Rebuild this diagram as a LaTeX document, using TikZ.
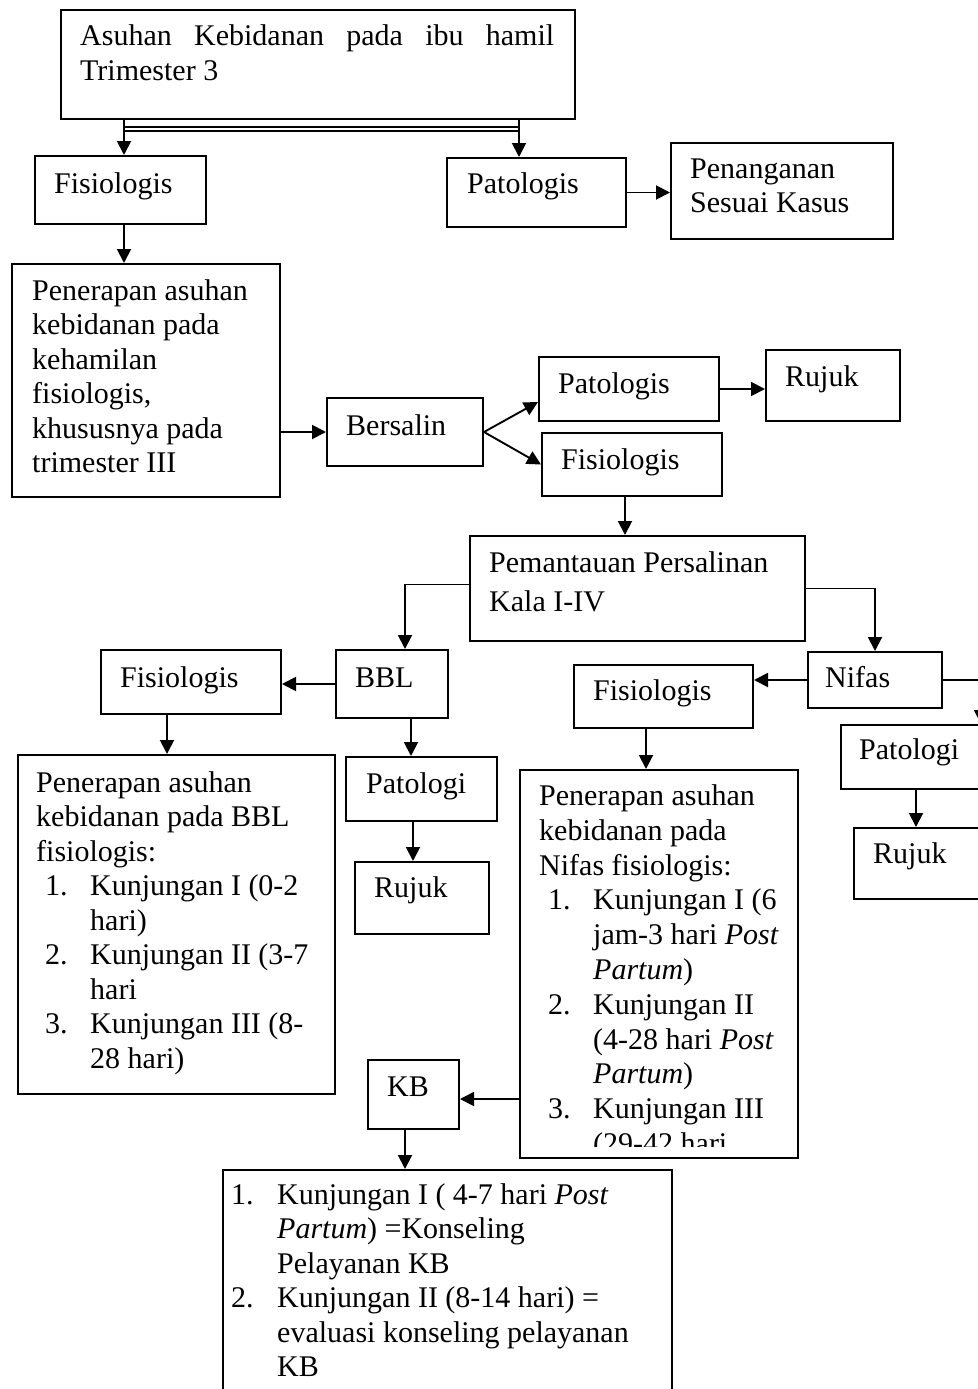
\documentclass[tikz,border=0pt]{standalone}
\usepackage{fontspec}
\setmainfont{Liberation Serif}
\usetikzlibrary{arrows.meta,calc}
\begin{document}
\begin{tikzpicture}[x=1pt,y=-1pt,
  box/.style={draw,line width=2pt,inner sep=0pt,anchor=north west},
  txt/.style={inner sep=0pt,anchor=north west,align=left,font=\fontsize{30}{34.5}\selectfont},
  arr/.style={line width=1.9pt,-{Triangle[length=14pt,width=14pt]}},
  ln/.style={line width=1.5pt}]
\useasboundingbox (0,0) rectangle (977,1389);

% boxes
\node[box,minimum width=514pt,minimum height=109pt] (top) at (60,9) {};
\node[box,minimum width=171pt,minimum height=68pt] (fis1) at (34,155) {};
\node[box,minimum width=179pt,minimum height=69pt] (pat1) at (446,157) {};
\node[box,minimum width=222pt,minimum height=96pt] (pen) at (670,142) {};
\node[box,minimum width=268pt,minimum height=233pt] (app1) at (11,263) {};
\node[box,minimum width=156pt,minimum height=68pt] (bers) at (326,397) {};
\node[box,minimum width=180pt,minimum height=64pt] (pat2) at (538,356) {};
\node[box,minimum width=134pt,minimum height=71pt] (ruj1) at (765,349) {};
\node[box,minimum width=180pt,minimum height=63pt] (fis2) at (541,432) {};
\node[box,minimum width=335pt,minimum height=105pt] (pem) at (469,535) {};
\node[box,minimum width=112pt,minimum height=68pt] (bbl) at (335,649) {};
\node[box,minimum width=180pt,minimum height=64pt] (fis3) at (100,649) {};
\node[box,minimum width=317pt,minimum height=339pt] (app2) at (17,754) {};
\node[box,minimum width=151pt,minimum height=64pt] (pato1) at (345,756) {};
\node[box,minimum width=134pt,minimum height=72pt] (ruj2) at (354,861) {};
\node[box,minimum width=134pt,minimum height=56pt] (nifas) at (807,651) {};
\node[box,minimum width=179pt,minimum height=63pt] (fis4) at (573,664) {};
\node[box,minimum width=278pt,minimum height=388pt] (app3) at (519,769) {};
\node[box,minimum width=280pt,minimum height=64pt] (pato2) at (840,724) {};
\node[box,minimum width=200pt,minimum height=71pt] (ruj3) at (853,827) {};
\node[box,minimum width=91pt,minimum height=69pt] (kb) at (367,1059) {};
\node[box,minimum width=449pt,minimum height=300pt] (bot) at (222,1169) {};

% texts (top of node = first baseline - 24.15)
\node[txt] (top-t) at (80,20.85) {\strut\hbox to 474pt{Asuhan\hfill Kebidanan\hfill pada\hfill ibu\hfill hamil}\\[1pt] Trimester 3};
\node[txt] (fis1-t) at (54,168.85) {\strut Fisiologis};
\node[txt] (pat1-t) at (467,168.85) {\strut Patologis};
\node[txt] (pen-t) at (690,153.85) {\strut Penanganan\\ Sesuai Kasus};
\node[txt] (app1-t) at (32,275.85) {\strut Penerapan asuhan\\ kebidanan pada\\ kehamilan\\ fisiologis,\\ khususnya pada\\ trimester III};
\node[txt] (bers-t) at (346,410.85) {\strut Bersalin};
\node[txt] (pat2-t) at (558,368.85) {\strut Patologis};
\node[txt] (ruj1-t) at (785,361.85) {\strut Rujuk};
\node[txt] (fis2-t) at (561,444.85) {\strut Fisiologis};
\node[txt] (pem-t) at (489,547.85) {\strut Pemantauan Persalinan\\[4.5pt] Kala I-IV};
\node[txt] (bbl-t) at (355,662.85) {\strut BBL};
\node[txt] (fis3-t) at (120,662.85) {\strut Fisiologis};
\node[txt] (app2-t) at (36,767.85) {\strut Penerapan asuhan\\ kebidanan pada BBL\\ fisiologis:\\
  \hspace*{9pt}\makebox[45pt][l]{1.}Kunjungan I (0-2\\ \hspace*{54pt}hari)\\
  \hspace*{9pt}\makebox[45pt][l]{2.}Kunjungan II (3-7\\ \hspace*{54pt}hari\\
  \hspace*{9pt}\makebox[45pt][l]{3.}Kunjungan III (8-\\ \hspace*{54pt}28 hari)};
\node[txt] (pato1-t) at (366,768.85) {\strut Patologi};
\node[txt] (ruj2-t) at (374,872.85) {\strut Rujuk};
\node[txt] (nifas-t) at (825,662.85) {\strut Nifas};
\node[txt] (fis4-t) at (593,675.85) {\strut Fisiologis};
\begin{scope}
\clip (519,769) rectangle (797,1146);
\node[txt,font=\fontsize{30}{34.8}\selectfont] (app3-t) at (539,780.85) {\strut Penerapan asuhan\\ kebidanan pada\\ Nifas fisiologis:\\
  \hspace*{9pt}\makebox[45pt][l]{1.}Kunjungan I (6\\ \hspace*{54pt}jam-3 hari \textit{Post}\\ \hspace*{54pt}\textit{Partum})\\
  \hspace*{9pt}\makebox[45pt][l]{2.}Kunjungan II\\ \hspace*{54pt}(4-28 hari \textit{Post}\\ \hspace*{54pt}\textit{Partum})\\
  \hspace*{9pt}\makebox[45pt][l]{3.}Kunjungan III\\ \hspace*{54pt}(29-42 hari};
\end{scope}
\node[txt] (pato2-t) at (859,734.85) {\strut Patologi};
\node[txt] (ruj3-t) at (873,838.85) {\strut Rujuk};
\node[txt] (kb-t) at (387,1071.85) {\strut KB};
\node[txt] (bot-t) at (231,1179.85) {\strut \makebox[46pt][l]{1.}Kunjungan I ( 4-7 hari \textit{Post}\\
  \hspace*{46pt}\textit{Partum}) =Konseling\\ \hspace*{46pt}Pelayanan KB\\
  \makebox[46pt][l]{2.}Kunjungan II (8-14 hari) =\\ \hspace*{46pt}evaluasi konseling pelayanan\\ \hspace*{46pt}KB};

% connectors
\coordinate (tA) at ($(fis1.north west)+(90,0)$);
\coordinate (tB) at ($(pat1.north west)+(73,0)$);
\draw[arr] (tA |- top.south) -- (tA);
\draw[arr] (tB |- top.south) -- (tB);
\draw[ln] ($(tA |- top.south)+(0,7)$) -- ($(tB |- top.south)+(0,7)$);
\draw[ln] ($(tA |- top.south)+(0,11)$) -- ($(tB |- top.south)+(0,11)$);
\draw[arr] (pat1.east) -- (pat1.east -| pen.west);
\coordinate (fA) at ($(fis1.south west)+(90,0)$);
\draw[arr] (fA) -- (fA |- app1.north);
\draw[arr] (bers.west -| app1.east) -- (bers.west);
\draw[arr] (bers.east) -- ($(pat2.south west)+(0,-20)$);
\draw[arr] (bers.east) -- (fis2.west);
\draw[arr] (pat2.east) -- (pat2.east -| ruj1.west);
\coordinate (f2A) at ($(fis2.south west)+(84,0)$);
\draw[arr] (f2A) -- (f2A |- pem.north);
\coordinate (bA) at ($(bbl.north west)+(70,0)$);
\coordinate (pW) at ($(pem.west)+(0,-4)$);
\draw[arr] (pW) -| (bA);
\draw[arr] (pem.east) -| (nifas.north);
\draw[arr] (bbl.west) -- (bbl.west -| fis3.east);
\coordinate (f3A) at ($(fis3.south west)+(67,0)$);
\draw[arr] (f3A) -- (f3A |- app2.north);
\coordinate (bB) at ($(bbl.south west)+(76,0)$);
\draw[arr] (bB) -- (bB |- pato1.north);
\coordinate (p1A) at ($(pato1.south west)+(68,0)$);
\draw[arr] (p1A) -- (p1A |- ruj2.north);
\draw[arr] (nifas.west) -- (nifas.west -| fis4.east);
\draw[arr] (nifas.east) -| (pato2.north);
\coordinate (p2A) at ($(pato2.south west)+(76,0)$);
\draw[arr] (p2A) -- (p2A |- ruj3.north);
\coordinate (f4A) at ($(fis4.south west)+(73,0)$);
\draw[arr] (f4A) -- (f4A |- app3.north);
\coordinate (kbE) at ($(kb.east)+(0,4.5)$);
\draw[arr] (kbE -| app3.west) -- (kbE);
\coordinate (kA) at ($(kb.south west)+(38,0)$);
\draw[arr] (kA) -- (kA |- bot.north);
\end{tikzpicture}
\end{document}
